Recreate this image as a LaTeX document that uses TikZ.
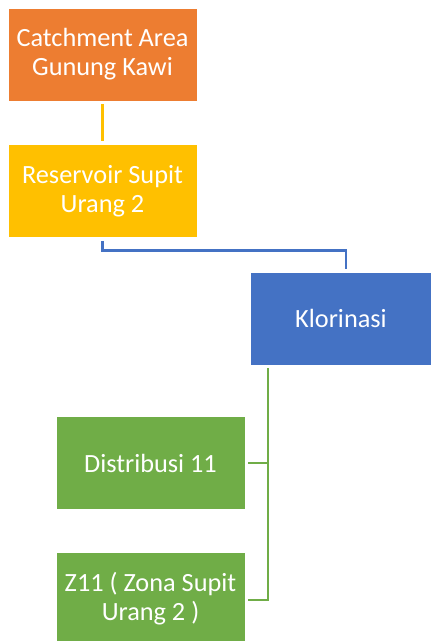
\documentclass[tikz,border=0pt]{standalone}
\usepackage{fontspec}
\setmainfont{Carlito}
\definecolor{cOrange}{HTML}{ED7D31}
\definecolor{cYellow}{HTML}{FFC000}
\definecolor{cBlue}{HTML}{4472C4}
\definecolor{cGreen}{HTML}{70AD47}
\tikzset{
  box/.style={rectangle, draw=white, line width=0.8pt, text=white, align=center,
    font=\fontsize{26.3}{29}\selectfont, inner sep=0pt},
  wide/.style={minimum width=189pt, minimum height=93pt},
  conn/.style={line width=2.7pt}
}
\begin{document}
\begin{tikzpicture}[x=1pt,y=1pt]
\useasboundingbox (0,0) rectangle (431,641);
\clip (0,0) rectangle (431,641);
\node[box, wide, fill=cOrange] (b1) at (102.5,586.5) {Catchment Area\\Gunung Kawi};
\node[box, wide, fill=cYellow] (b2) at (102.5,450) {Reservoir Supit\\Urang 2};
\node[box, minimum width=181pt, minimum height=93pt, fill=cBlue] (b3) at (341,322.5) {Klorinasi};
\node[box, wide, fill=cGreen] (b4) at (150.5,178) {Distribusi 11};
\node[box, wide, fill=cGreen] (b5) at (150.5,42) {Z11 ( Zona Supit\\Urang 2 )};
\coordinate (t1) at ([xshift=5pt,yshift=21pt]b3.north);
\coordinate (t2) at ([xshift=5pt,yshift=3pt]b3.north);
\coordinate (g0) at ([xshift=-73pt,yshift=-3pt]b3.south);
\draw[conn, cYellow] ([yshift=-3pt]b1.south) -- ([yshift=3pt]b2.north);
\draw[conn, cBlue] ([yshift=-3pt]b2.south) |- (t1) -- (t2);
\draw[conn, cGreen] ([xshift=3pt]b4.east) -| (g0);
\draw[conn, cGreen] ([xshift=3pt,yshift=-1pt]b5.east) -| (g0);
\end{tikzpicture}
\end{document}
